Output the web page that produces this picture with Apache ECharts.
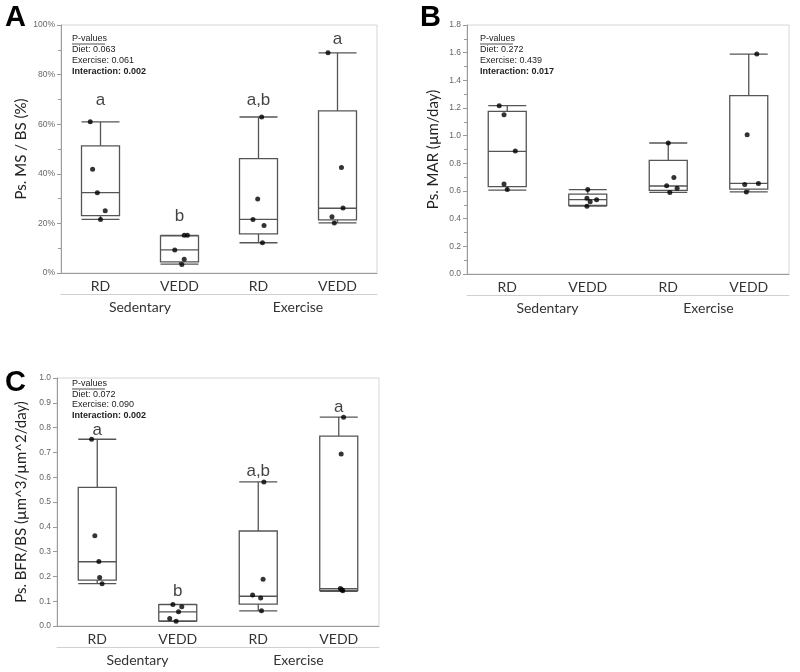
<!DOCTYPE html>
<html><head><meta charset="utf-8">
<script src="https://cdn.jsdelivr.net/npm/echarts@6/dist/echarts.min.js"></script>
<style>html,body{margin:0;padding:0;background:#fff}#c{width:800px;height:672px}</style>
</head><body><div id="c"></div>
<script>
const categories = ['RD', 'VEDD', 'RD', 'VEDD'];
const groups = ['Sedentary', 'Exercise'];

// Panel A: Ps. MS / BS (%)  box = [min, Q1, median, Q3, max]
const boxA = [[21.6, 23.1, 32.4, 51.3, 60.9], [3.6, 4.5, 9.3, 15.0, 15.2], [12.2, 15.8, 21.6, 46.1, 62.9], [20.2, 21.4, 26.1, 65.4, 88.8]];
const ptsA = [[61.0, 41.8, 32.4, 25.1, 21.6], [15.2, 15.2, 9.3, 5.5, 3.4], [62.9, 29.8, 21.6, 19.2, 12.2], [88.8, 42.5, 26.2, 22.7, 20.2]];
const jitA = [[-0.13, -0.1, -0.04, 0.06, 0], [0.06, 0.1, -0.06, 0.06, 0.03], [0.04, -0.01, -0.07, 0.07, 0.05], [-0.12, 0.05, 0.07, -0.07, -0.04]];
const lettersA = ['a', 'b', 'a,b', 'a'];
const letterPosA = [69.8, 22.7, 69.8, 94.4];
const pA = ['Diet: 0.063', 'Exercise: 0.061', 'Interaction: 0.002'];

// Panel B: Ps. MAR (µm/day)
const boxB = [[0.607, 0.631, 0.887, 1.176, 1.217], [0.49, 0.496, 0.537, 0.578, 0.61], [0.59, 0.604, 0.636, 0.821, 0.947], [0.593, 0.614, 0.655, 1.29, 1.59]];
const ptsB = [[1.217, 1.152, 0.89, 0.65, 0.61], [0.61, 0.547, 0.523, 0.537, 0.49], [0.947, 0.698, 0.638, 0.619, 0.59], [1.59, 1.007, 0.655, 0.647, 0.593]];
const jitB = [[-0.1, -0.04, 0.1, -0.04, 0], [0, -0.01, 0.03, 0.11, -0.01], [0, 0.07, -0.02, 0.11, 0.02], [0.1, -0.02, 0.12, -0.05, -0.03]];
const pB = ['Diet: 0.272', 'Exercise: 0.439', 'Interaction: 0.017'];

// Panel C: Ps. BFR/BS
const boxC = [[0.171, 0.185, 0.259, 0.559, 0.753], [0.019, 0.021, 0.057, 0.086, 0.087], [0.061, 0.088, 0.12, 0.383, 0.581], [0.14, 0.144, 0.151, 0.766, 0.842]];
const ptsC = [[0.753, 0.364, 0.26, 0.196, 0.17], [0.087, 0.078, 0.057, 0.03, 0.019], [0.581, 0.189, 0.125, 0.113, 0.061], [0.842, 0.694, 0.151, 0.146, 0.142]];
const jitC = [[-0.07, -0.03, 0.02, 0.03, 0.06], [-0.06, 0.05, 0.01, -0.1, -0.02], [0.07, 0.06, -0.07, 0.03, 0.04], [0.06, 0.03, 0.02, 0.04, 0.05]];
const lettersC = ['a', 'b', 'a,b', 'a'];
const letterPosC = [0.788, 0.141, 0.625, 0.88];
const pC = ['Diet: 0.072', 'Exercise: 0.090', 'Interaction: 0.002'];

const LAB = 'Lato';
const TICKF = 'Liberation Sans';

const grids = [
  { left: 61, top: 25, width: 316, height: 248 },
  { left: 467, top: 25, width: 322, height: 249 },
  { left: 57, top: 378, width: 322, height: 248 }
].map(g => Object.assign({ show: true, borderColor: '#d6d6d6', borderWidth: 1, backgroundColor: 'transparent' }, g));

const xAxes = [];
const yAxes = [];
const series = [];

function addPanel(gi, box, pts, jit, letters, letterPos, yCfg) {
  const base = xAxes.length;
  xAxes.push({
    gridIndex: gi, type: 'category', data: categories, boundaryGap: true,
    axisLine: { show: true, onZero: false, lineStyle: { color: '#9a9a9a', width: 1 } },
    axisTick: { show: false },
    axisLabel: { fontFamily: LAB, fontSize: 14, color: '#333', margin: 6, interval: 0 }
  });
  xAxes.push({
    gridIndex: gi, type: 'category', data: groups, position: 'bottom', offset: 21,
    axisLine: { show: true, onZero: false, lineStyle: { color: '#d0d0d0', width: 1 } },
    axisTick: { show: false },
    axisLabel: { fontFamily: LAB, fontSize: 14, color: '#333', margin: 6, interval: 0 }
  });
  xAxes.push({ gridIndex: gi, type: 'value', min: -0.5, max: 3.5, show: false, axisLine: { onZero: false } });
  yAxes.push(Object.assign({
    gridIndex: gi, type: 'value', position: 'left',
    nameLocation: 'middle', nameRotate: 90,
    nameTextStyle: { fontFamily: LAB, fontSize: 15, color: '#222' },
    axisLine: { show: true, onZero: false, lineStyle: { color: '#9a9a9a', width: 1 } },
    axisTick: { show: true, length: 4, lineStyle: { color: '#9a9a9a' } },
    splitLine: { show: false },
    axisLabel: { fontFamily: TICKF, fontSize: 8.5, color: '#666', margin: 6 }
  }, yCfg));
  const yi = yAxes.length - 1;
  series.push({
    type: 'boxplot', xAxisIndex: base, yAxisIndex: yi, data: box,
    boxWidth: [38, 38], silent: true,
    itemStyle: { color: 'rgba(255,255,255,0)', borderColor: '#555', borderWidth: 1.3 },
    emphasis: { disabled: true }, z: 2
  });
  const sd = [];
  pts.forEach((arr, i) => arr.forEach((v, k) => sd.push([i + jit[i][k], v])));
  series.push({
    type: 'scatter', xAxisIndex: base + 2, yAxisIndex: yi, data: sd,
    symbolSize: 5, itemStyle: { color: '#000' }, silent: true, z: 5
  });
  if (letters) {
    series.push({
      type: 'scatter', xAxisIndex: base, yAxisIndex: yi,
      data: letters.map((t, i) => ({ value: [i, letterPos[i]], name: t })),
      symbolSize: 0, silent: true, z: 6,
      label: { show: true, position: 'inside', formatter: p => p.name, fontFamily: 'Liberation Sans', fontSize: 17, color: '#111' }
    });
  }
}

addPanel(0, boxA, ptsA, jitA, lettersA, letterPosA, {
  min: 0, max: 100, interval: 20, name: 'Ps. MS / BS (%)', nameGap: 32,
  minorTick: { show: true, splitNumber: 2, length: 3, lineStyle: { color: '#9a9a9a' } },
  axisLabel: { fontFamily: TICKF, fontSize: 8.5, color: '#666', margin: 6, formatter: '{value}%' }
});
addPanel(1, boxB, ptsB, jitB, null, null, {
  min: 0, max: 1.8, interval: 0.2, name: 'Ps. MAR (µm/day)', nameGap: 26,
  minorTick: { show: true, splitNumber: 2, length: 3, lineStyle: { color: '#9a9a9a' } },
  axisLabel: { fontFamily: TICKF, fontSize: 8.5, color: '#666', margin: 6, formatter: v => v.toFixed(1) }
});
addPanel(2, boxC, ptsC, jitC, lettersC, letterPosC, {
  min: 0, max: 1, interval: 0.1, name: 'Ps. BFR/BS (µm^3/µm^2/day)', nameGap: 28,
  axisLabel: { fontFamily: TICKF, fontSize: 8.5, color: '#666', margin: 6, formatter: v => v.toFixed(1) }
});

function pBlock(x, y, lines, lh) {
  const els = [];
  els.push({ type: 'text', left: x, top: y, style: { text: 'P-values', font: '9px "Liberation Sans"', fill: '#222' } });
  els.push({ type: 'line', shape: { x1: x, y1: y + 10, x2: x + 33, y2: y + 10 }, style: { stroke: '#222', lineWidth: 0.8 } });
  lines.forEach((t, i) => {
    els.push({ type: 'text', left: x, top: y + lh * (i + 1), style: { text: t, font: (i === 2 ? 'bold ' : '') + '9px "Liberation Sans"', fill: '#222' } });
  });
  return els;
}

const graphic = [
  { type: 'text', left: 5, top: 3, style: { text: 'A', font: 'bold 29px "Liberation Sans"', fill: '#000' } },
  { type: 'text', left: 420, top: 3, style: { text: 'B', font: 'bold 29px "Liberation Sans"', fill: '#000' } },
  { type: 'text', left: 5, top: 368, style: { text: 'C', font: 'bold 29px "Liberation Sans"', fill: '#000' } }
].concat(pBlock(72, 34, pA, 11), pBlock(480, 34, pB, 11), pBlock(72, 379, pC, 10.7));

const chart = echarts.init(document.getElementById('c'), null, { renderer: 'canvas' });
chart.setOption({
  animation: false,
  backgroundColor: '#fff',
  grid: grids,
  xAxis: xAxes,
  yAxis: yAxes,
  series: series,
  graphic: graphic
});
</script>
</body></html>
